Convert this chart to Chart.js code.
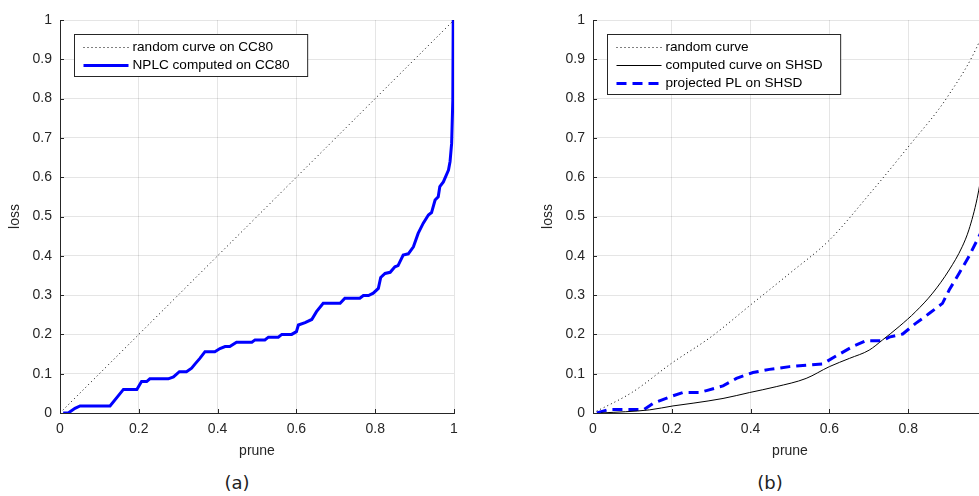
<!DOCTYPE html>
<html>
<head>
<meta charset="utf-8">
<script src="https://cdn.jsdelivr.net/npm/chart.js@4.4.1/dist/chart.umd.min.js"></script>
<style>
    html, body { margin: 0; padding: 0; width: 979px; height: 496px; overflow: hidden; background: #fff; }
    .panel { position: absolute; top: 0; }
    .caption { position: absolute; top: 469px; width: 60px; text-align: center; font: 18px "DejaVu Sans", sans-serif; color: #222; line-height: 28px; }
</style>
</head>
<body>
<canvas id="chartA" class="panel" width="490" height="460" style="left:0px"></canvas>
<canvas id="chartB" class="panel" width="490" height="460" style="left:533px"></canvas>
<div class="caption" style="left:207px">(a)</div>
<div class="caption" style="left:740px">(b)</div>
<script>
// (a) CC80
const randomAX = [0, 1];
const randomAY = [0, 1];
const nplcX = [0.008, 0.021, 0.038, 0.051, 0.127, 0.161, 0.195, 0.207, 0.22, 0.228, 0.275, 0.288, 0.303, 0.321, 0.334, 0.343,
    0.355, 0.368, 0.393, 0.406, 0.419, 0.431, 0.448, 0.487, 0.495, 0.52, 0.529, 0.554, 0.563, 0.588, 0.6, 0.605,
    0.622, 0.639, 0.651, 0.668, 0.711, 0.723, 0.761, 0.77, 0.783, 0.795, 0.808, 0.814, 0.825, 0.838, 0.85, 0.858,
    0.871, 0.884, 0.897, 0.909, 0.922, 0.935, 0.943, 0.952, 0.96, 0.964, 0.973, 0.986, 0.99, 0.994, 0.997, 0.998];
const nplcY = [0, 0, 0.012, 0.018, 0.018, 0.06, 0.06, 0.08, 0.08, 0.087, 0.087, 0.092, 0.105, 0.105, 0.114, 0.125,
    0.139, 0.156, 0.156, 0.164, 0.169, 0.169, 0.18, 0.18, 0.186, 0.186, 0.193, 0.193, 0.2, 0.2, 0.207, 0.224,
    0.23, 0.238, 0.258, 0.279, 0.279, 0.292, 0.292, 0.299, 0.299, 0.305, 0.317, 0.345, 0.355, 0.358, 0.372, 0.375,
    0.402, 0.405, 0.423, 0.457, 0.483, 0.504, 0.51, 0.542, 0.55, 0.576, 0.588, 0.618, 0.64, 0.686, 0.796, 1];

// (b) SHSD
const randomBX = [0, 0.1, 0.2, 0.3, 0.4, 0.5, 0.6, 0.7, 0.8, 0.9, 0.984, 1];
const randomBY = [0, 0.053, 0.127, 0.194, 0.275, 0.356, 0.44, 0.555, 0.677, 0.805, 0.953, 1];
const computedX = [0.02, 0.144, 0.203, 0.254, 0.33, 0.397, 0.465, 0.541, 0.6, 0.651, 0.701, 0.735, 0.777, 0.819,
    0.862, 0.904, 0.937, 0.954, 0.975, 0.99];
const computedY = [0, 0.008, 0.018, 0.025, 0.037, 0.052, 0.067, 0.088, 0.118, 0.139, 0.16, 0.186, 0.22, 0.258,
    0.305, 0.364, 0.423, 0.466, 0.546, 0.63];
const projectedX = [0.01, 0.04, 0.13, 0.153, 0.195, 0.228, 0.27, 0.288, 0.33, 0.364, 0.406, 0.448, 0.499, 0.583,
    0.617, 0.659, 0.693, 0.735, 0.752, 0.786, 0.819, 0.853, 0.887, 0.904, 0.929, 0.954, 0.975, 0.99];
const projectedY = [0, 0.009, 0.009, 0.025, 0.041, 0.052, 0.052, 0.057, 0.069, 0.088, 0.103, 0.111, 0.118, 0.125,
    0.145, 0.169, 0.184, 0.184, 0.193, 0.201, 0.228, 0.253, 0.279, 0.313, 0.355, 0.398, 0.44, 0.47];

const pts = (xs, ys) => xs.map((x, i) => ({ x: x, y: ys[i] }));

const axisColor = '#262626';
const tickFont = { family: '"Liberation Sans", Arial, sans-serif', size: 14 };
const tickText = v => String(Number(v.toFixed(1)));

// legend drawn inside the plot, MATLAB style
const insideLegend = {
    id: 'insideLegend',
    afterDraw(chart) {
        const ctx = chart.ctx;
        const a = chart.chartArea;
        const sets = chart.data.datasets;
        ctx.save();
        // inward ticks
        ctx.strokeStyle = axisColor;
        ctx.lineWidth = 1;
        chart.scales.x.ticks.forEach(t => {
            const px = Math.round(chart.scales.x.getPixelForValue(t.value)) + 0.5;
            ctx.beginPath(); ctx.moveTo(px, a.bottom); ctx.lineTo(px, a.bottom - 4); ctx.stroke();
        });
        chart.scales.y.ticks.forEach(t => {
            const py = Math.round(chart.scales.y.getPixelForValue(t.value)) + 0.5;
            ctx.beginPath(); ctx.moveTo(a.left, py); ctx.lineTo(a.left + 4, py); ctx.stroke();
        });

        ctx.font = '13.6px "Liberation Sans", Arial, sans-serif';
        const textW = Math.max(...sets.map(d => ctx.measureText(d.label).width));
        const x0 = a.left + 14.5, y0 = a.top + 14.5, rowH = 18;
        const w = 58 + textW + 18, h = sets.length * rowH + 6;
        ctx.fillStyle = '#fff';
        ctx.fillRect(x0, y0, w, h);
        ctx.strokeStyle = axisColor;
        ctx.setLineDash([]);
        ctx.strokeRect(x0, y0, w, h);
        sets.forEach((d, i) => {
            const cy = y0 + 13 + i * rowH;
            ctx.strokeStyle = d.borderColor;
            ctx.lineWidth = d.borderWidth;
            ctx.setLineDash(d.borderDash || []);
            ctx.beginPath(); ctx.moveTo(x0 + 9, cy); ctx.lineTo(x0 + 54, cy); ctx.stroke();
            ctx.fillStyle = '#000';
            ctx.textBaseline = 'middle';
            ctx.fillText(d.label, x0 + 58, cy);
        });
        ctx.restore();
    }
};

function makeChart(id, datasets) {
    return new Chart(document.getElementById(id), {
        type: 'line',
        data: { datasets: datasets },
        options: {
            responsive: false,
            animation: false,
            layout: { padding: { top: 20, left: 0, right: 36, bottom: 0 } },
            plugins: { legend: { display: false }, tooltip: { enabled: false } },
            elements: { point: { radius: 0 }, line: { tension: 0 } },
            scales: {
                x: {
                    type: 'linear', min: 0, max: 1,
                    ticks: { stepSize: 0.2, color: axisColor, font: tickFont, padding: 8, maxRotation: 0, callback: tickText },
                    grid: { color: 'rgba(0,0,0,0.1)', drawTicks: false },
                    border: { color: axisColor },
                    title: { display: true, text: 'prune', color: axisColor, font: { family: tickFont.family, size: 14 }, padding: 0 },
                    afterFit: s => { s.height = 47; }
                },
                y: {
                    type: 'linear', min: 0, max: 1,
                    ticks: { stepSize: 0.1, color: axisColor, font: tickFont, padding: 8, callback: tickText },
                    grid: { color: 'rgba(0,0,0,0.1)', drawTicks: false },
                    border: { color: axisColor },
                    title: { display: true, text: 'loss', color: axisColor, font: { family: tickFont.family, size: 14 }, padding: { top: 7, bottom: 0 } },
                    afterFit: s => { s.width = 60; }
                }
            }
        },
        plugins: [insideLegend]
    });
}

makeChart('chartA', [
    { label: 'random curve on CC80', data: pts(randomAX, randomAY), borderColor: '#000', borderWidth: 1, borderDash: [1, 3] },
    { label: 'NPLC computed on CC80', data: pts(nplcX, nplcY), borderColor: '#0000ff', borderWidth: 3 }
]);

makeChart('chartB', [
    { label: 'random curve', data: pts(randomBX, randomBY), borderColor: '#000', borderWidth: 1, borderDash: [1, 3], cubicInterpolationMode: 'monotone' },
    { label: 'computed curve on SHSD', data: pts(computedX, computedY), borderColor: '#000', borderWidth: 1, cubicInterpolationMode: 'monotone' },
    { label: 'projected PL on SHSD', data: pts(projectedX, projectedY), borderColor: '#0000ff', borderWidth: 3, borderDash: [10, 6] }
]);
</script>
</body>
</html>
